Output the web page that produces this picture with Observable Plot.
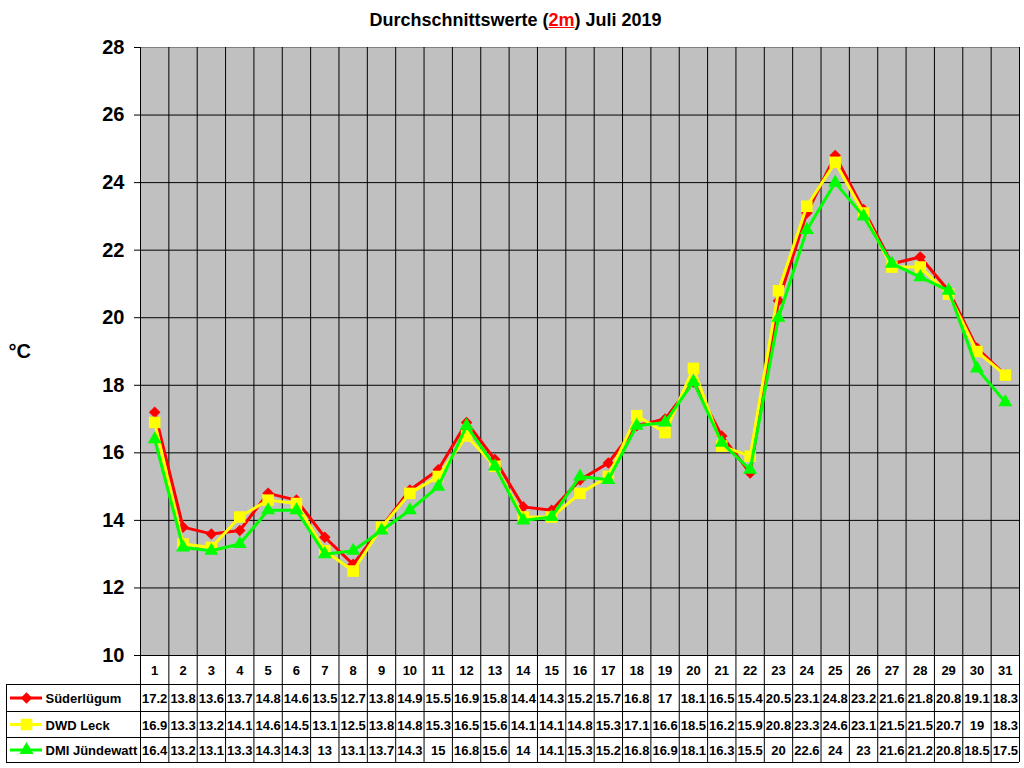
<!DOCTYPE html>
<html>
<head>
<meta charset="utf-8">
<script src="https://cdn.jsdelivr.net/npm/d3@7"></script>
<script src="https://cdn.jsdelivr.net/npm/@observablehq/plot@0.6"></script>
<style>
  body { margin: 0; background: white; font-family: "Liberation Sans", Arial, sans-serif; }
  #title { width: 1024px; height: 40px; line-height: 40px; text-align: center; padding-left: 7px; box-sizing: border-box;
           font-weight: bold; font-size: 18px; color: #000; }
  #title .red { color: #ff0000; text-decoration: underline; }
  #chart svg [aria-label="y-axis tick label"] { font-weight: bold; font-size: 20px; }
</style>
</head>
<body>
<div id="title">Durchschnittswerte (<span class="red">2m</span>) Juli 2019</div>
<div id="chart"></div>
<script>
// ---- data ----
const days = [1,2,3,4,5,6,7,8,9,10,11,12,13,14,15,16,17,18,19,20,21,22,23,24,25,26,27,28,29,30,31];
const suederluegum = [17.2,13.8,13.6,13.7,14.8,14.6,13.5,12.7,13.8,14.9,15.5,16.9,15.8,14.4,14.3,15.2,15.7,16.8,17,18.1,16.5,15.4,20.5,23.1,24.8,23.2,21.6,21.8,20.8,19.1,18.3];
const dwdLeck = [16.9,13.3,13.2,14.1,14.6,14.5,13.1,12.5,13.8,14.8,15.3,16.5,15.6,14.1,14.1,14.8,15.3,17.1,16.6,18.5,16.2,15.9,20.8,23.3,24.6,23.1,21.5,21.5,20.7,19,18.3];
const dmiJuendewatt = [16.4,13.2,13.1,13.3,14.3,14.3,13,13.1,13.7,14.3,15,16.8,15.6,14,14.1,15.3,15.2,16.8,16.9,18.1,16.3,15.5,20,22.6,24,23,21.6,21.2,20.8,18.5,17.5];
const seriesNames = ["Süderlügum", "DWD Leck", "DMI Jündewatt"];
const yTicks = [10,12,14,16,18,20,22,24,26,28];

// ---- styles ----
const seriesValues = [suederluegum, dwdLeck, dmiJuendewatt];
const seriesStyle = [
  {color: "#ff0000", symbol: "diamond2", r: 5.2},
  {color: "#ffff00", symbol: "square", r: 6.5},
  {color: "#00ff00", symbol: "triangle", r: 5.2}
];

const W = 1024, H = 728, mL = 140, mR = 5, mT = 7, mB = 113;
const frameH = H - mT - mB;
const rightX = W - mR;
const font = "'Liberation Sans', Arial, sans-serif";
const tableLines = [29, 56, 82, 107];
const rowCenters = [43.5, 70, 95.5];
const bounds = d3.range(0.5, 32, 1);

const marks = [
  Plot.frame({fill: "#c0c0c0", stroke: "none"}),
  Plot.ruleY(yTicks.filter(t => t > 10 && t < 28), {stroke: "#000", strokeWidth: 1}),
  Plot.ruleY([28], {stroke: "#808080", strokeWidth: 1}),
  Plot.ruleY([10], {stroke: "#000", strokeWidth: 1}),
  // vertical category lines, continuing through the data table
  Plot.ruleX(bounds, {stroke: "#000", strokeWidth: 1, insetBottom: -tableLines[3]}),
  // data table left border
  Plot.ruleX([0.5], {stroke: "#000", strokeWidth: 1, dx: -(mL - 6), insetTop: frameH + tableLines[0], insetBottom: -tableLines[3]}),
  // data table horizontal lines
  ...tableLines.map(off => Plot.ruleY([10], {stroke: "#000", strokeWidth: 1, dy: off, insetLeft: -(mL - 6)})),
  // category header
  Plot.text(days, {x: d => d, frameAnchor: "bottom", lineAnchor: "middle", dy: 15.5, text: d => String(d), fontSize: 13, fontWeight: "bold", fill: "#000"}),
  Plot.axisY({ticks: yTicks, tickSize: 6, tickPadding: 10, fontSize: 20, fontWeight: "bold", label: null, stroke: "#000"}),
  Plot.text(["°C"], {frameAnchor: "left", lineAnchor: "middle", dx: -132, textAnchor: "start", text: d => d, fontSize: 20, fontWeight: "bold", fill: "#000"})
];

seriesNames.forEach((name, s) => {
  const st = seriesStyle[s];
  const vals = seriesValues[s];
  const rows = days.map((d, i) => ({day: d, value: vals[i]}));
  marks.push(
    Plot.line(rows, {x: "day", y: "value", stroke: st.color, strokeWidth: 3}),
    Plot.dot(rows, {x: "day", y: "value", symbol: st.symbol, r: st.r, fill: st.color, stroke: "none"}),
    // data table row
    Plot.text(days, {x: d => d, frameAnchor: "bottom", lineAnchor: "middle", dy: rowCenters[s], text: (d, i) => String(vals[i]), fontSize: 13, fontWeight: "bold", fill: "#000"}),
    // legend key
    Plot.ruleY([10], {stroke: st.color, strokeWidth: 3, dy: rowCenters[s] - 1, insetLeft: -(mL - 10), insetRight: rightX - 42}),
    Plot.dot([name], {frameAnchor: "bottom-left", dx: -(mL - 26), dy: rowCenters[s] - 1, symbol: st.symbol, r: st.r, fill: st.color, stroke: "none"}),
    Plot.text([name], {frameAnchor: "bottom-left", lineAnchor: "middle", dx: -(mL - 45), dy: rowCenters[s], textAnchor: "start", text: d => d, fontSize: 13, fontWeight: "bold", fill: "#000"})
  );
});

const chart = Plot.plot({
  width: W, height: H,
  marginLeft: mL, marginRight: mR, marginTop: mT, marginBottom: mB,
  x: {type: "linear", domain: [0.5, 31.5], axis: null},
  y: {domain: [10, 28], axis: null},
  style: {fontFamily: font, background: "white", color: "#000", overflow: "visible"},
  marks
});
document.getElementById("chart").appendChild(chart);
</script>
</body>
</html>
